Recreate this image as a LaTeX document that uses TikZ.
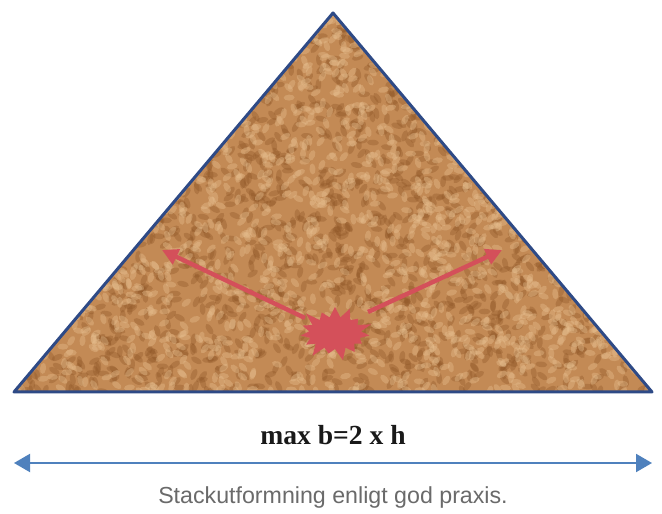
\documentclass[tikz,border=0pt]{standalone}
\usepackage{fontspec}
\setmainfont{Liberation Serif}
\setsansfont{Liberation Sans}
\usetikzlibrary{arrows.meta, calc, positioning, shapes.symbols}
\definecolor{cEdge}{HTML}{2E4A86}
\definecolor{cSand}{HTML}{C38A55}
\definecolor{cGrainD}{HTML}{8E5526}
\definecolor{cGrainL}{HTML}{E6BE8E}
\definecolor{cBlast}{HTML}{D4505A}
\definecolor{cSpan}{HTML}{4F81BD}
\definecolor{cCap}{HTML}{6A6A6A}
\tikzset{
    pile/.style={draw=cEdge, line width=1.5pt, line join=round},
    blast/.style={starburst, fill=cBlast, draw=none, minimum width=40pt,
                  minimum height=30pt, starburst points=15,
                  starburst point height=7pt, inner sep=0pt},
    ray/.style={-{Triangle[length=8pt, width=8pt]}, line width=2.2pt, cBlast},
    span/.style={{Triangle[length=8pt, width=9pt]}-{Triangle[length=8pt, width=9pt]},
                 line width=1pt, cSpan},
    rule/.style={font=\bfseries\fontsize{13.8}{16}\selectfont, text=black!90},
    caption/.style={font=\sffamily\fontsize{11.6}{13}\selectfont, text=cCap},
}

\begin{document}
\begin{tikzpicture}[x=0.5pt, y=0.5pt]
\useasboundingbox (0,0) rectangle (662,513);
\pgfmathsetseed{42}

\coordinate (top) at (333,500);
\coordinate (bl)  at (14,121);
\coordinate (br)  at (652,121);

% sawdust pile
\begin{scope}
\clip (top) -- (bl) -- (br) -- cycle;
\fill[cSand] (top) -- (bl) -- (br) -- cycle;
\foreach \i in {1,...,2200}{%
    \pgfmathsetmacro\px{14+638*rnd}
    \pgfmathsetmacro\py{121+379*rnd}
    \pgfmathsetmacro\aa{180*rnd}
    \fill[cGrainD, opacity=0.35, rotate around={\aa:(\px,\py)}]
        (\px,\py) ellipse [x radius=6, y radius=2.8];}
\foreach \i in {1,...,2200}{%
    \pgfmathsetmacro\px{14+638*rnd}
    \pgfmathsetmacro\py{121+379*rnd}
    \pgfmathsetmacro\aa{180*rnd}
    \fill[cGrainL, opacity=0.4, rotate around={\aa:(\px,\py)}]
        (\px,\py) ellipse [x radius=5.5, y radius=3];}
\end{scope}
\draw[pile] (top) -- (bl) -- (br) -- cycle;

% ignition and spread
\node[blast] (fire) at (335,180) {};
\coordinate (leftEnd)  at (162,263);
\coordinate (rightEnd) at (502,263);
\draw[ray] ([shift={(-30,15)}]fire.center) -- (leftEnd);
\draw[ray] ([shift={(33,21)}]fire.center) -- (rightEnd);

% width rule
\node[rule] (maxb) at (333,78) {max b=2 x h};
\coordinate (spanL) at (14,50);
\coordinate (spanR) at (652,50);
\draw[span] (spanL) -- (spanR);

\node[caption] (cap) at (333,16) {Stackutformning enligt god praxis.};

\end{tikzpicture}
\end{document}
